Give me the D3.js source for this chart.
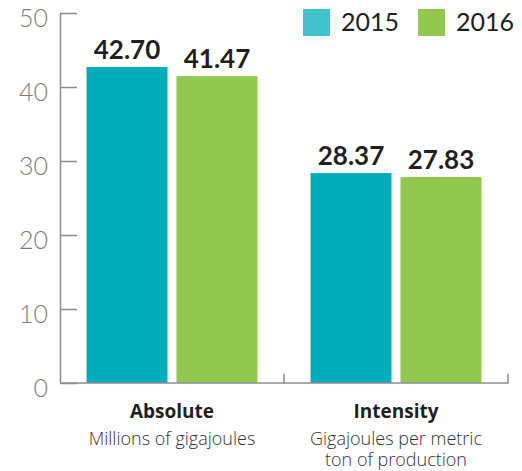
<!DOCTYPE html>
<html>
<head>
<meta charset="utf-8">
<script src="https://cdn.jsdelivr.net/npm/d3@7"></script>
<style>
  body { margin: 0; background: #fff; }
  svg { display: block; }
</style>
</head>
<body>
<svg id="chart" width="522" height="471"></svg>
<script>
var categories = ["Absolute", "Intensity"];
var subtitles = [["Millions of gigajoules"], ["Gigajoules per metric", "ton of production"]];
var years = ["2015", "2016"];
var values2015 = [42.70, 28.37];
var values2016 = [41.47, 27.83];
var yTicks = [0, 10, 20, 30, 40, 50];

var barColors = {"2015": "#00aeb9", "2016": "#92c84e"};
var legendColors = {"2015": "#41c3cb", "2016": "#92c84e"};

var svg = d3.select("#chart");

var plotLeft = 60, plotRight = 508, plotTop = 13, plotBottom = 383;

var y = d3.scaleLinear().domain([0, 50]).range([plotBottom, plotTop]);

var x0 = d3.scaleBand().domain(categories).range([plotLeft, plotRight]).padding(0);

var x1 = d3.scaleBand().domain(years)
    .range([26.5, x0.bandwidth() - 26.5])
    .paddingInner(0.1).paddingOuter(0);

var data = categories.map(function(c, i) {
  return {cat: c, vals: [{year: "2015", v: values2015[i]}, {year: "2016", v: values2016[i]}]};
});

// y axis: ticks pointing right, labels left
var yAxis = d3.axisLeft(y).tickValues(yTicks).tickSizeInner(-17).tickSizeOuter(0).tickPadding(12);
var gy = svg.append("g").attr("transform", "translate(" + plotLeft + ",0)").call(yAxis);
gy.select(".domain").attr("stroke", "#8c8c8c").attr("stroke-width", 1.5);
gy.selectAll(".tick line").attr("stroke", "#8c8c8c").attr("stroke-width", 1.5);
gy.selectAll(".tick text")
  .attr("dy", 13)
  .attr("fill", "#7d7d7d")
  .style("font-family", "Lato, sans-serif")
  .style("font-weight", 300)
  .style("font-size", "25px");

// bars
var groups = svg.selectAll(".grp").data(data).enter().append("g")
  .attr("transform", function(d) { return "translate(" + x0(d.cat) + ",0)"; });

groups.selectAll("rect").data(function(d) { return d.vals; }).enter().append("rect")
  .attr("x", function(d) { return x1(d.year); })
  .attr("y", function(d) { return y(d.v); })
  .attr("width", x1.bandwidth())
  .attr("height", function(d) { return y(0) - y(d.v); })
  .attr("fill", function(d) { return barColors[d.year]; });

groups.selectAll(".val").data(function(d) { return d.vals; }).enter().append("text")
  .attr("x", function(d) { return x1(d.year) + x1.bandwidth() / 2; })
  .attr("y", function(d) { return y(d.v) - 8; })
  .attr("text-anchor", "middle")
  .attr("fill", "#231f20")
  .style("font-family", "Lato, sans-serif")
  .style("font-weight", 700)
  .style("font-size", "26px")
  .text(function(d) { return d.v.toFixed(2); });

// bottom axis line with upward ticks at band edges
svg.append("line")
  .attr("x1", plotLeft).attr("x2", plotRight + 0.75)
  .attr("y1", plotBottom).attr("y2", plotBottom)
  .attr("stroke", "#8c8c8c").attr("stroke-width", 1.5);
categories.forEach(function(c) {
  var tx = x0(c) + x0.bandwidth();
  svg.append("line")
    .attr("x1", tx).attr("x2", tx)
    .attr("y1", plotBottom).attr("y2", plotBottom - 9)
    .attr("stroke", "#8c8c8c").attr("stroke-width", 1.5);
});

// category labels
categories.forEach(function(c, i) {
  var cx = x0(c) + x0.bandwidth() / 2;
  svg.append("text")
    .attr("x", cx).attr("y", 418)
    .attr("text-anchor", "middle")
    .attr("fill", "#231f20")
    .style("font-family", "'Open Sans', sans-serif")
    .style("font-weight", 700)
    .style("font-size", "19px")
    .text(c);
  subtitles[i].forEach(function(s, j) {
    svg.append("text")
      .attr("x", cx).attr("y", 445 + j * 21)
      .attr("text-anchor", "middle")
      .attr("fill", "#333")
      .style("font-family", "'Open Sans', sans-serif")
      .style("font-weight", 300)
      .style("font-size", "18px")
      .text(s);
  });
});

// legend
var legendX = [303, 418];
years.forEach(function(yr, i) {
  svg.append("rect")
    .attr("x", legendX[i]).attr("y", 9)
    .attr("width", 27).attr("height", 27)
    .attr("fill", legendColors[yr]);
  svg.append("text")
    .attr("x", legendX[i] + 38).attr("y", 31)
    .attr("fill", "#231f20")
    .style("font-family", "Lato, sans-serif")
    .style("font-size", "25px")
    .text(yr);
});
</script>
</body>
</html>
